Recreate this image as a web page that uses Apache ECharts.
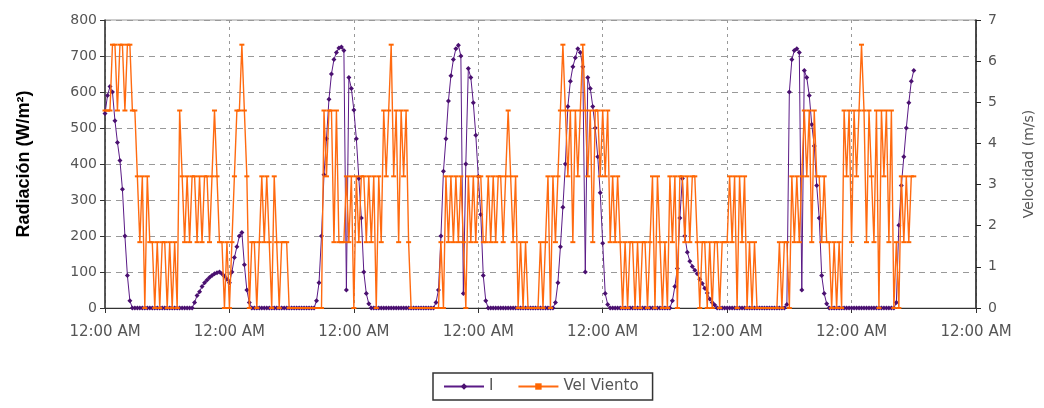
<!DOCTYPE html>
<html>
<head>
<meta charset="utf-8">
<script src="https://cdn.jsdelivr.net/npm/echarts@6/dist/echarts.min.js"></script>
<style>html,body{margin:0;padding:0;background:#fff}#c{width:1044px;height:408px}</style>
</head>
<body>
<div id="c"></div>
<script>
// x tick labels (one per day tick)
const tickLabels = ['12:00 AM','12:00 AM','12:00 AM','12:00 AM','12:00 AM','12:00 AM','12:00 AM','12:00 AM'];
const seriesNames = ['I', 'Vel Viento'];
// sample spacing in axis (tick) units
const sampleStep = 0.02;

// Radiation I (W/m2), one value per sample
const radiation = [
540,590,615,600,520,460,410,330,200,90,20,0,
0,0,0,0,0,0,0,0,0,0,0,0,0,0,0,0,0,0,0,0,0,0,0,
0,15,35,45,60,70,78,85,90,95,98,100,95,88,80,70,100,140,170,200,210,120,50,15,0,
0,0,0,0,0,0,0,0,0,0,0,0,0,0,0,0,0,0,0,0,0,0,0,0,
0,20,70,200,370,470,580,650,690,710,722,725,715,50,640,610,550,470,360,250,100,40,12,0,
0,0,0,0,0,0,0,0,0,0,0,0,0,0,0,0,0,0,0,0,0,0,0,0,
0,15,50,200,380,470,575,645,690,720,730,700,40,400,665,640,570,480,365,260,90,20,0,
0,0,0,0,0,0,0,0,0,0,0,0,0,0,0,0,0,0,0,0,0,0,0,0,0,
0,15,70,170,280,400,560,630,670,695,720,710,670,100,640,610,560,500,420,320,180,40,10,0,
0,0,0,0,0,0,0,0,0,0,0,0,0,0,0,0,0,0,0,0,0,0,0,
0,20,60,110,250,360,200,155,130,115,105,95,80,68,55,42,25,15,8,0,
0,0,0,0,0,0,0,0,0,0,0,0,0,0,0,0,0,0,0,0,0,0,0,0,0,0,
0,10,600,690,715,720,710,50,660,640,590,510,450,340,250,90,40,12,0,
0,0,0,0,0,0,0,0,0,0,0,0,0,0,0,0,0,0,0,0,0,0,0,0,0,0,
15,230,340,420,500,570,630,660
];

// Wind speed (m/s), one value per sample
const windSpeed = [
4.8,4.8,4.8,
6.4,6.4,4.8,6.4,6.4,4.8,6.4,6.4,4.8,
4.8,3.2,1.6,3.2,0,3.2,1.6,1.6,0,1.6,0,1.6,1.6,0,1.6,0,1.6,0,
4.8,3.2,1.6,3.2,1.6,3.2,3.2,1.6,3.2,1.6,3.2,3.2,1.6,3.2,4.8,3.2,1.6,1.6,0,1.6,0,1.6,3.2,
4.8,4.8,6.4,4.8,3.2,0,1.6,1.6,0,1.6,3.2,1.6,3.2,1.6,0,3.2,1.6,0,1.6,1.6,1.6,0,
0,0,0,0,0,0,0,0,0,0,0,0,0,
4.8,3.2,4.8,4.8,1.6,4.8,1.6,1.6,1.6,3.2,1.6,3.2,0,3.2,1.6,3.2,3.2,1.6,3.2,1.6,3.2,0,3.2,1.6,4.8,3.2,4.8,6.4,3.2,4.8,1.6,4.8,3.2,4.8,1.6,0,
0,0,0,0,0,0,0,0,0,0,0,
1.6,0,3.2,1.6,3.2,1.6,3.2,1.6,3.2,1.6,0,3.2,1.6,3.2,1.6,3.2,3.2,1.6,1.6,3.2,1.6,3.2,1.6,3.2,3.2,1.6,3.2,4.8,3.2,1.6,3.2,0,1.6,0,1.6,0,0,0,0,0,
1.6,0,1.6,3.2,0,3.2,1.6,3.2,4.8,6.4,4.8,3.2,4.8,1.6,4.8,3.2,4.8,6.4,4.8,3.2,4.8,1.6,4.8,4.8,3.2,4.8,3.2,4.8,1.6,
3.2,1.6,3.2,1.6,0,1.6,0,1.6,1.6,0,1.6,0,1.6,1.6,0,1.6,3.2,0,3.2,1.6,0,1.6,0,3.2,1.6,3.2,0,3.2,3.2,1.6,3.2,1.6,3.2,3.2,1.6,0,1.6,1.6,0,1.6,0,1.6,1.6,0,1.6,1.6,1.6,3.2,1.6,3.2,0,3.2,1.6,3.2,0,1.6,0,1.6,0,
0,0,0,0,0,0,0,0,
1.6,0,1.6,1.6,0,3.2,1.6,3.2,1.6,3.2,4.8,3.2,4.8,1.6,4.8,3.2,3.2,1.6,3.2,1.6,1.6,0,1.6,0,1.6,0,4.8,3.2,4.8,1.6,4.8,3.2,4.8,6.4,4.8,1.6,4.8,3.2,1.6,4.8,0,4.8,3.2,4.8,1.6,4.8,0,1.6,0,3.2,1.6,3.2,1.6,3.2,3.2
];

const radPairs = radiation.map((v, i) => [i * sampleStep, v]);
const windPairs = windSpeed.map((v, i) => [i * sampleStep, v]);

const txt = '#555';
const fam = 'DejaVu Sans, Arial, sans-serif';
const chart = echarts.init(document.getElementById('c'), null, {renderer: 'canvas'});
chart.setOption({
  animation: false,
  backgroundColor: '#fff',
  grid: {left: 105, right: 64, top: 20, bottom: 100, show: true, borderColor: '#999', borderWidth: 1},
  legend: {
    data: seriesNames,
    bottom: 8, left: 433,
    borderColor: '#333', borderWidth: 1.5, padding: [6, 14, 6, 10],
    itemWidth: 40, itemHeight: 8, itemGap: 24,
    textStyle: {color: txt, fontSize: 15, fontFamily: fam}
  },
  xAxis: {
    type: 'value', min: 0, max: 7, interval: 1,
    axisLine: {lineStyle: {color: '#333', width: 1}},
    axisTick: {show: true, length: 5, lineStyle: {color: '#333'}},
    axisLabel: {
      color: txt, fontSize: 15, margin: 17, fontFamily: fam,
      showMinLabel: true, showMaxLabel: true,
      formatter: v => tickLabels[Math.round(v)] || ''
    },
    splitLine: {show: true, lineStyle: {color: '#999', type: [3, 4], width: 1}}
  },
  yAxis: [{
    type: 'value', min: 0, max: 800, interval: 100, position: 'left',
    name: 'Radiación (W/m²)', nameLocation: 'middle', nameGap: 72, nameRotate: 90,
    nameTextStyle: {color: '#000', fontSize: 18, fontWeight: 'bold', fontFamily: 'Liberation Sans, Arial, sans-serif'},
    axisLine: {show: true, lineStyle: {color: '#333', width: 1.5}},
    axisTick: {show: true, length: 5, lineStyle: {color: '#333'}},
    axisLabel: {color: txt, fontSize: 14, margin: 8, fontFamily: fam},
    splitLine: {show: true, lineStyle: {color: '#999', type: [6, 5], width: 1}}
  }, {
    type: 'value', min: 0, max: 7, interval: 1, position: 'right',
    name: 'Velocidad (m/s)', nameLocation: 'middle', nameGap: 46, nameRotate: 90,
    nameTextStyle: {color: txt, fontSize: 14, fontFamily: fam},
    axisLine: {show: true, lineStyle: {color: '#222', width: 1.5}},
    axisTick: {show: true, length: 5, lineStyle: {color: '#222'}},
    axisLabel: {color: txt, fontSize: 14, margin: 12, fontFamily: fam},
    splitLine: {show: false}
  }],
  series: [{
    name: seriesNames[0], type: 'line', yAxisIndex: 0, data: radPairs, z: 3,
    symbol: 'diamond', symbolSize: 5, showSymbol: true,
    lineStyle: {color: '#5a1a86', width: 1},
    itemStyle: {color: '#4a1070'}
  }, {
    name: seriesNames[1], type: 'line', yAxisIndex: 1, data: windPairs, z: 4,
    symbol: 'rect', symbolSize: [5, 2], showSymbol: true,
    lineStyle: {color: '#ff6a10', width: 1.4},
    itemStyle: {color: '#ff6600'}
  }]
});
</script>
</body>
</html>
